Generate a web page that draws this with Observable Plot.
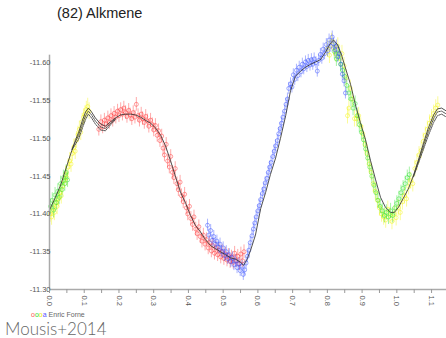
<!DOCTYPE html>
<html><head><meta charset="utf-8">
<script src="https://cdn.jsdelivr.net/npm/d3@7"></script>
<script src="https://cdn.jsdelivr.net/npm/@observablehq/plot@0.6"></script>
<style>
html,body{margin:0;padding:0;background:#fff;}
#wrap{position:relative;width:446px;height:338px;overflow:hidden;font-family:"Liberation Sans",Arial,sans-serif;}
#title{position:absolute;left:57px;top:5px;font-size:14.5px;color:#222;white-space:nowrap;}
#legend{position:absolute;left:31px;top:311px;font-size:7px;color:#666;white-space:nowrap;}
#caption{position:absolute;left:5px;top:318px;font-family:Lato,"Open Sans",sans-serif;font-weight:300;font-size:17px;color:#666;white-space:nowrap;}
#chart{position:absolute;left:0;top:0;}
</style></head><body>
<div id="wrap"><div id="chart"></div><div id="title">(82) Alkmene</div>
<div id="legend"><span style="color:#f55">o</span><span style="color:#3d3">o</span><span style="color:#ee0">o</span><span style="color:#55f">a</span> Enric Forne</div>
<div id="caption">Mousis+2014</div></div>
<script>
const title = "(82) Alkmene";
const xTicks = [0.0,0.1,0.2,0.3,0.4,0.5,0.6,0.7,0.8,0.9,1.0,1.1];
const xMinorTicks = [0,0.05,0.1,0.15,0.2,0.25,0.3,0.35,0.4,0.45,0.5,0.55,0.6,0.65,0.7,0.75,0.8,0.85,0.9,0.95,1.0,1.05,1.1];
const yTicks = [-11.60,-11.55,-11.50,-11.45,-11.40,-11.35,-11.30];

// model light curve [phase, mag]
const modelMain = [[0.000,-11.405],[0.017,-11.422],[0.032,-11.438],[0.046,-11.458],[0.060,-11.478],[0.075,-11.498],[0.084,-11.508],[0.095,-11.524],[0.104,-11.535],[0.112,-11.540],[0.121,-11.535],[0.132,-11.527],[0.147,-11.519],[0.161,-11.516],[0.176,-11.522],[0.190,-11.527],[0.205,-11.531],[0.219,-11.532],[0.233,-11.532],[0.248,-11.531],[0.262,-11.528],[0.276,-11.524],[0.291,-11.520],[0.305,-11.514],[0.320,-11.504],[0.334,-11.490],[0.348,-11.471],[0.363,-11.449],[0.377,-11.429],[0.392,-11.414],[0.406,-11.398],[0.420,-11.385],[0.435,-11.376],[0.449,-11.366],[0.464,-11.358],[0.478,-11.354],[0.492,-11.350],[0.507,-11.346],[0.521,-11.342],[0.536,-11.340],[0.550,-11.336],[0.559,-11.332],[0.570,-11.341],[0.579,-11.352],[0.593,-11.372],[0.608,-11.407],[0.622,-11.428],[0.636,-11.452],[0.651,-11.474],[0.665,-11.500],[0.680,-11.530],[0.694,-11.563],[0.708,-11.582],[0.723,-11.589],[0.737,-11.594],[0.752,-11.598],[0.766,-11.601],[0.780,-11.604],[0.795,-11.614],[0.809,-11.626],[0.818,-11.630],[0.829,-11.624],[0.841,-11.610],[0.852,-11.593],[0.867,-11.571],[0.881,-11.544],[0.895,-11.521],[0.910,-11.498],[0.924,-11.471],[0.939,-11.445],[0.953,-11.422],[0.967,-11.409],[0.982,-11.402],[0.993,-11.402],[1.005,-11.409],[1.019,-11.421],[1.034,-11.434],[1.048,-11.451],[1.062,-11.471],[1.077,-11.494],[1.091,-11.514],[1.106,-11.531],[1.117,-11.539],[1.129,-11.540],[1.143,-11.536]];
const modelB1 = [[0.065,-11.486],[0.084,-11.504],[0.095,-11.519],[0.104,-11.530],[0.112,-11.536],[0.121,-11.531],[0.132,-11.523],[0.147,-11.515],[0.161,-11.513],[0.176,-11.520],[0.190,-11.526]];
const modelC1 = [[0.065,-11.485],[0.084,-11.499],[0.095,-11.514],[0.104,-11.525],[0.112,-11.532],[0.121,-11.527],[0.132,-11.519],[0.147,-11.511],[0.161,-11.510],[0.176,-11.518],[0.190,-11.525]];
const modelB2 = [[1.048,-11.450],[1.062,-11.469],[1.077,-11.490],[1.091,-11.509],[1.106,-11.526],[1.117,-11.535],[1.129,-11.536],[1.143,-11.532]];
const modelC2 = [[1.048,-11.449],[1.062,-11.467],[1.077,-11.486],[1.091,-11.504],[1.106,-11.521],[1.117,-11.530],[1.129,-11.532],[1.143,-11.528]];

// observations [phase, mag]
const redObs = [[0.142,-11.512],[0.148,-11.522],[0.153,-11.515],[0.158,-11.524],[0.163,-11.519],[0.168,-11.527],[0.172,-11.521],[0.177,-11.530],[0.182,-11.524],[0.186,-11.533],[0.191,-11.528],[0.196,-11.536],[0.200,-11.530],[0.205,-11.538],[0.210,-11.532],[0.214,-11.540],[0.219,-11.534],[0.223,-11.529],[0.228,-11.537],[0.232,-11.531],[0.237,-11.526],[0.241,-11.534],[0.246,-11.528],[0.250,-11.545],[0.255,-11.530],[0.259,-11.524],[0.264,-11.532],[0.268,-11.526],[0.273,-11.521],[0.277,-11.529],[0.282,-11.523],[0.286,-11.516],[0.291,-11.524],[0.296,-11.518],[0.300,-11.511],[0.305,-11.517],[0.310,-11.504],[0.314,-11.510],[0.318,-11.497],[0.323,-11.503],[0.327,-11.487],[0.331,-11.478],[0.336,-11.492],[0.340,-11.470],[0.345,-11.462],[0.349,-11.476],[0.354,-11.455],[0.358,-11.448],[0.362,-11.460],[0.367,-11.440],[0.371,-11.432],[0.376,-11.442],[0.380,-11.424],[0.385,-11.416],[0.389,-11.426],[0.394,-11.408],[0.398,-11.400],[0.403,-11.410],[0.407,-11.394],[0.412,-11.386],[0.416,-11.396],[0.421,-11.380],[0.425,-11.374],[0.430,-11.383],[0.434,-11.370],[0.439,-11.364],[0.443,-11.372],[0.448,-11.360],[0.452,-11.366],[0.457,-11.355],[0.461,-11.362],[0.466,-11.351],[0.470,-11.358],[0.475,-11.348],[0.479,-11.355],[0.484,-11.346],[0.488,-11.352],[0.493,-11.343],[0.497,-11.350],[0.502,-11.341],[0.506,-11.347],[0.511,-11.339],[0.515,-11.345],[0.520,-11.337],[0.524,-11.343],[0.529,-11.336],[0.533,-11.348],[0.538,-11.338],[0.542,-11.344],[0.547,-11.334],[0.551,-11.347],[0.556,-11.338],[0.560,-11.350]];
const blueObs = [[0.455,-11.385],[0.459,-11.372],[0.464,-11.378],[0.468,-11.365],[0.473,-11.370],[0.477,-11.360],[0.482,-11.364],[0.486,-11.356],[0.491,-11.360],[0.495,-11.350],[0.500,-11.355],[0.504,-11.345],[0.509,-11.350],[0.513,-11.341],[0.518,-11.346],[0.522,-11.337],[0.527,-11.342],[0.531,-11.333],[0.536,-11.338],[0.540,-11.329],[0.545,-11.334],[0.549,-11.325],[0.554,-11.331],[0.558,-11.320],[0.562,-11.326],[0.566,-11.335],[0.570,-11.344],[0.574,-11.352],[0.578,-11.362],[0.583,-11.371],[0.587,-11.380],[0.591,-11.388],[0.595,-11.396],[0.600,-11.404],[0.604,-11.411],[0.608,-11.419],[0.613,-11.427],[0.617,-11.433],[0.621,-11.441],[0.626,-11.447],[0.630,-11.455],[0.634,-11.462],[0.638,-11.468],[0.643,-11.476],[0.647,-11.483],[0.651,-11.490],[0.656,-11.497],[0.660,-11.506],[0.664,-11.513],[0.668,-11.520],[0.672,-11.528],[0.677,-11.536],[0.681,-11.545],[0.685,-11.552],[0.689,-11.566],[0.694,-11.572],[0.698,-11.568],[0.702,-11.584],[0.706,-11.578],[0.711,-11.590],[0.715,-11.583],[0.719,-11.594],[0.724,-11.588],[0.728,-11.598],[0.732,-11.592],[0.737,-11.601],[0.741,-11.595],[0.745,-11.603],[0.750,-11.597],[0.754,-11.604],[0.758,-11.598],[0.762,-11.605],[0.767,-11.600],[0.771,-11.589],[0.775,-11.603],[0.780,-11.611],[0.784,-11.606],[0.788,-11.618],[0.792,-11.612],[0.797,-11.624],[0.801,-11.616],[0.805,-11.630],[0.810,-11.622],[0.814,-11.634],[0.818,-11.625],[0.822,-11.617],[0.826,-11.622],[0.830,-11.608],[0.835,-11.612],[0.839,-11.598],[0.843,-11.585],[0.848,-11.576],[0.852,-11.560]];
const yellowObs = [[0.002,-11.400],[0.006,-11.396],[0.010,-11.408],[0.014,-11.402],[0.018,-11.415],[0.022,-11.410],[0.026,-11.420],[0.030,-11.428],[0.034,-11.424],[0.038,-11.437],[0.042,-11.444],[0.046,-11.452],[0.050,-11.448],[0.054,-11.462],[0.058,-11.470],[0.062,-11.466],[0.066,-11.480],[0.070,-11.488],[0.074,-11.483],[0.078,-11.498],[0.082,-11.505],[0.086,-11.512],[0.090,-11.508],[0.094,-11.522],[0.098,-11.528],[0.102,-11.532],[0.106,-11.538],[0.110,-11.542],[0.114,-11.536],[0.800,-11.618],[0.806,-11.610],[0.812,-11.628],[0.818,-11.620],[0.824,-11.612],[0.830,-11.622],[0.836,-11.606],[0.842,-11.612],[0.848,-11.596],[0.854,-11.580],[0.858,-11.530],[0.862,-11.540],[0.866,-11.566],[0.872,-11.552],[0.878,-11.526],[0.884,-11.526],[0.890,-11.530],[0.896,-11.516],[0.902,-11.506],[0.908,-11.492],[0.914,-11.480],[0.920,-11.466],[0.926,-11.455],[0.932,-11.440],[0.938,-11.430],[0.944,-11.418],[0.950,-11.408],[0.956,-11.400],[0.962,-11.396],[0.968,-11.392],[0.974,-11.406],[0.980,-11.398],[0.986,-11.390],[0.992,-11.400],[0.998,-11.395],[1.004,-11.408],[1.010,-11.402],[1.016,-11.416],[1.022,-11.424],[1.028,-11.420],[1.034,-11.436],[1.040,-11.444],[1.046,-11.440],[1.052,-11.460],[1.058,-11.468],[1.064,-11.478],[1.070,-11.484],[1.076,-11.496],[1.082,-11.504],[1.088,-11.512],[1.094,-11.520],[1.100,-11.527],[1.106,-11.533],[1.112,-11.540],[1.118,-11.544]];
const greenObs = [[0.003,-11.410],[0.008,-11.418],[0.012,-11.405],[0.016,-11.425],[0.020,-11.415],[0.024,-11.430],[0.028,-11.422],[0.032,-11.440],[0.036,-11.432],[0.040,-11.448],[0.044,-11.440],[0.048,-11.455],[0.052,-11.445],[0.820,-11.615],[0.826,-11.605],[0.832,-11.612],[0.838,-11.598],[0.844,-11.590],[0.850,-11.582],[0.856,-11.570],[0.862,-11.560],[0.868,-11.552],[0.874,-11.540],[0.880,-11.546],[0.886,-11.530],[0.892,-11.518],[0.898,-11.508],[0.904,-11.498],[0.910,-11.486],[0.916,-11.474],[0.922,-11.462],[0.928,-11.450],[0.934,-11.438],[0.940,-11.428],[0.946,-11.418],[0.952,-11.410],[0.958,-11.404],[0.964,-11.398],[0.970,-11.402],[0.976,-11.396],[0.982,-11.404],[0.988,-11.398],[0.994,-11.408],[1.000,-11.414],[1.006,-11.420],[1.012,-11.428],[1.018,-11.434],[1.024,-11.440],[1.030,-11.448],[1.036,-11.452]];
const errRed = 0.009, errBlue = 0.008, errYellow = 0.011, errGreen = 0.010;

function obsMarks(data, err, color) {
  return [
    Plot.ruleX(data, {x: d => d[0], y1: d => d[1] - err, y2: d => d[1] + err, stroke: color, strokeOpacity: 0.4, strokeWidth: 1}),
    Plot.dot(data, {x: d => d[0], y: d => d[1], r: 2, stroke: color, strokeOpacity: 0.45, strokeWidth: 1, fill: "none"})
  ];
}

const chart = Plot.plot({
  width: 446, height: 338,
  marginLeft: 49, marginRight: 0, marginTop: 32, marginBottom: 49,
  style: {fontFamily: "Liberation Sans, Arial, sans-serif", background: "transparent"},
  x: {domain: [0, 1.143]},
  y: {domain: [-11.30, -11.64]},
  marks: [
    ...obsMarks(yellowObs, errYellow, "#f5f500"),
    ...obsMarks(greenObs, errGreen, "#1fe01f"),
    ...obsMarks(redObs, errRed, "#ff2a2a"),
    ...obsMarks(blueObs, errBlue, "#2a44ff"),
    Plot.line(modelB1, {x: d => d[0], y: d => d[1], stroke: "#555", strokeWidth: 1, strokeDasharray: "1.5,1"}),
    Plot.line(modelC1, {x: d => d[0], y: d => d[1], stroke: "#555", strokeWidth: 1, strokeDasharray: "1.5,1"}),
    Plot.line(modelB2, {x: d => d[0], y: d => d[1], stroke: "#555", strokeWidth: 1, strokeDasharray: "1.5,1"}),
    Plot.line(modelC2, {x: d => d[0], y: d => d[1], stroke: "#555", strokeWidth: 1, strokeDasharray: "1.5,1"}),
    Plot.line(modelMain, {x: d => d[0], y: d => d[1], stroke: "#333", strokeWidth: 1, strokeOpacity: 0.85}),
    Plot.ruleX([0], {y1: -11.30, y2: -11.61, stroke: "#aaa", strokeWidth: 1.5}),
    Plot.ruleY([-11.30], {x1: 0, x2: 1.143, stroke: "#aaa", strokeWidth: 1.5}),
    Plot.axisY({ticks: yTicks, tickSize: 0, tickPadding: -1, tickFormat: d => d.toFixed(2), fontSize: 7.5, fill: "#555", label: null}),
    Plot.axisX({ticks: xMinorTicks, tickSize: 4, stroke: "#999", tickFormat: () => "", label: null}),
    Plot.axisX({ticks: xTicks, tickSize: 0, tickPadding: 6, tickRotate: 90, tickFormat: d => d.toFixed(1), fontSize: 7.5, fill: "#555", label: null})
  ]
});
document.getElementById("chart").appendChild(chart);
</script></body></html>
